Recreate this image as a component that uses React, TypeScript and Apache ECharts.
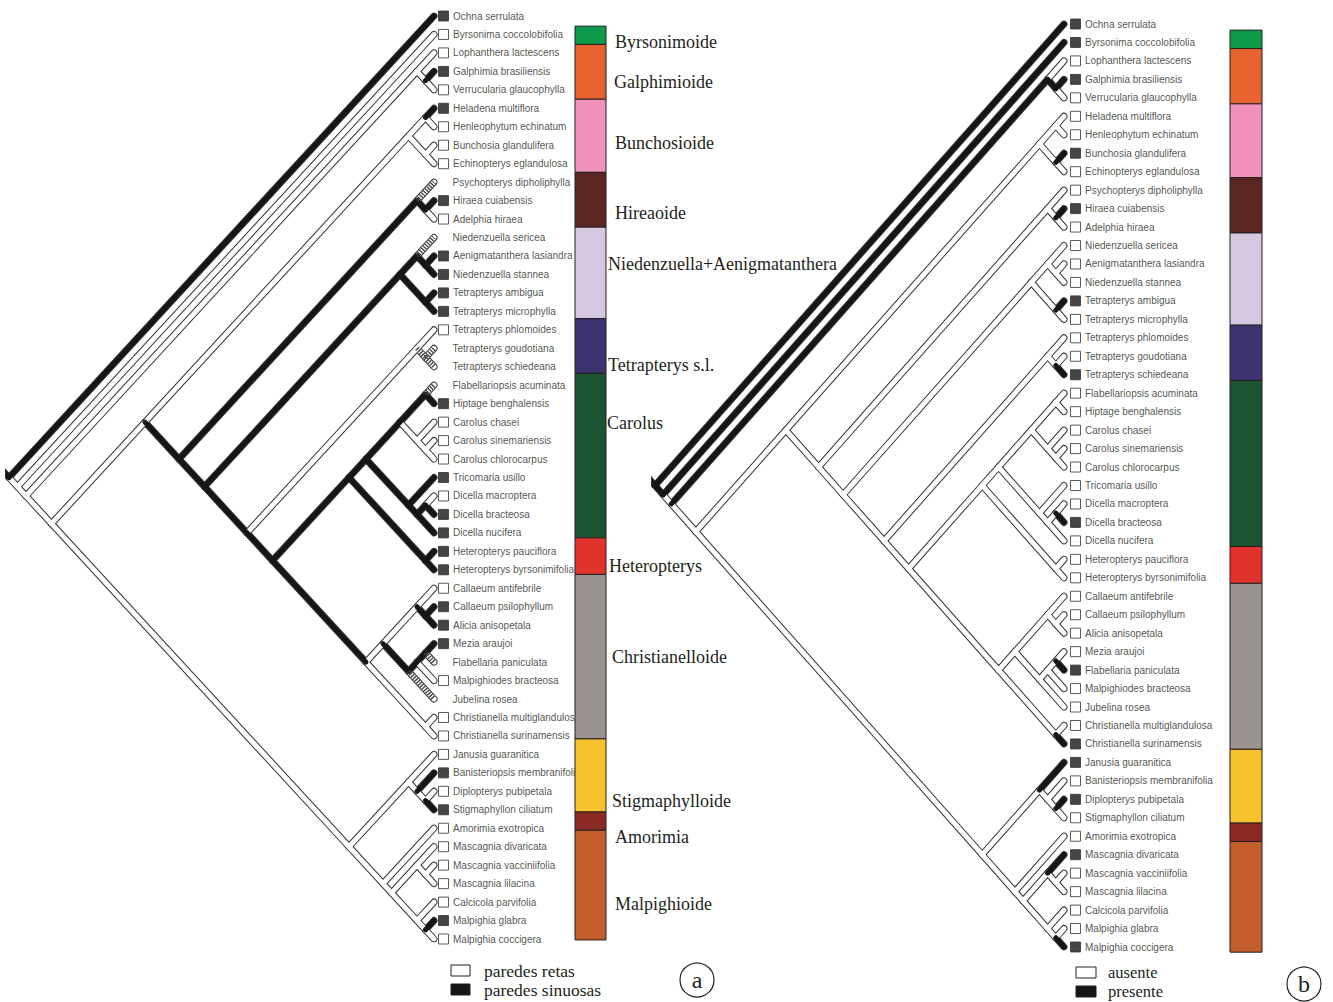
import React, { useEffect, useRef } from "react";
import * as echarts from "echarts";

// ---------------- DATA ----------------
const taxa = [
  "Ochna serrulata", "Byrsonima coccolobifolia", "Lophanthera lactescens", "Galphimia brasiliensis",
  "Verrucularia glaucophylla", "Heladena multiflora", "Henleophytum echinatum", "Bunchosia glandulifera",
  "Echinopterys eglandulosa", "Psychopterys dipholiphylla", "Hiraea cuiabensis", "Adelphia hiraea",
  "Niedenzuella sericea", "Aenigmatanthera lasiandra", "Niedenzuella stannea", "Tetrapterys ambigua",
  "Tetrapterys microphylla", "Tetrapterys phlomoides", "Tetrapterys goudotiana", "Tetrapterys schiedeana",
  "Flabellariopsis acuminata", "Hiptage benghalensis", "Carolus chasei", "Carolus sinemariensis",
  "Carolus chlorocarpus", "Tricomaria usillo", "Dicella macroptera", "Dicella bracteosa",
  "Dicella nucifera", "Heteropterys pauciflora", "Heteropterys byrsonimifolia", "Callaeum antifebrile",
  "Callaeum psilophyllum", "Alicia anisopetala", "Mezia araujoi", "Flabellaria paniculata",
  "Malpighiodes bracteosa", "Jubelina rosea", "Christianella multiglandulosa", "Christianella surinamensis",
  "Janusia guaranitica", "Banisteriopsis membranifolia", "Diplopterys pubipetala", "Stigmaphyllon ciliatum",
  "Amorimia exotropica", "Mascagnia divaricata", "Mascagnia vacciniifolia", "Mascagnia lilacina",
  "Calcicola parvifolia", "Malpighia glabra", "Malpighia coccigera",
];

// character states per taxon: b = black, w = white, h = no data (hatched branch)
const statesA = [
  "b", "w", "w", "b", "w", "b", "w", "w", "w", "h", "b", "w", "h", "b", "b", "b", "b",
  "w", "h", "h", "h", "b", "w", "w", "w", "b", "w", "b", "b", "b", "b", "w", "b", "b",
  "b", "h", "w", "h", "w", "w", "w", "b", "w", "b", "w", "w", "w", "w", "w", "b", "w",
];
const statesB = [
  "b", "b", "w", "b", "w", "w", "w", "b", "w", "w", "b", "w", "w", "w", "w", "b", "w",
  "w", "w", "b", "w", "w", "w", "w", "w", "w", "w", "b", "w", "w", "w", "w", "w", "w",
  "w", "b", "w", "w", "w", "b", "b", "w", "b", "w", "w", "b", "w", "w", "w", "w", "b",
];

// tree topology (leaf indices)
const bunchosioide = [[5, 6], [7, 8]];
const hireaoide = [9, [10, 11]];
const niedenzuella = [[12, [13, 14]], [15, 16]];
const tetrapterys = [17, [18, 19]];
const carolus = [[[20, 21], [22, [23, 24]]], [25, [[26, 27], 28]]];
const heteropterys = [29, 30];
const christianelloide = [[[31, [32, 33]], [[[34, 35], 36], 37]], [38, 39]];
const stigmaphylloide = [40, [41, [42, 43]]];
const malpighioide = [[45, [46, 47]], [48, [49, 50]]];
const galphimioide = [2, [3, 4]];
const upperClade = [bunchosioide, [hireaoide, [niedenzuella, [tetrapterys, [[carolus, heteropterys], christianelloide]]]]];
const lowerClade = [stigmaphylloide, [44, malpighioide]];
const tree = [0, [1, [galphimioide, [upperClade, lowerClade]]]];

// internal branch states (keyed by first-last leaf of the clade they lead to)
const blackBranchesA = [
  "9-39", "12-39", "17-39", "20-39", "31-39", "9-11", "10-11", "12-16", "12-14", "13-14", "15-16",
  "20-30", "20-28", "20-24", "20-21", "25-28", "26-28", "26-27", "29-30", "34-37", "34-36", "34-35", "32-33",
];
const hatchBranchesA = ["18-19"];
const blackBranchesB = ["1-50", "2-4", "3-4"];
const hatchBranchesB: string[] = [];

// clade bars
const cladeNames = [
  "Byrsonimoide", "Galphimioide", "Bunchosioide", "Hireaoide", "Niedenzuella+Aenigmatanthera",
  "Tetrapterys s.l.", "Carolus", "Heteropterys", "Christianelloide", "Stigmaphylloide", "Amorimia", "Malpighioide",
];
const cladeSizes = [1, 3, 4, 3, 5, 3, 9, 2, 9, 4, 1, 6];
const cladeColors = [
  "#0d9b4b", "#e8622d", "#f190bb", "#5b2522", "#d6c8e1", "#3c3371",
  "#1b5431", "#e1322c", "#9b938f", "#f8c22f", "#8b2a25", "#c45f2b",
];

const legendA = ["paredes retas", "paredes sinuosas"];
const legendB = ["ausente", "presente"];

// ---------------- LAYOUT ----------------
const ROW_H = 18.46;
const PANEL_A = { root: 9, tip: 434, top: 16, boxDx: 9.5, barDx: 141, barW: 31, barStart: 0.55, barScale: 0.99 };
const PANEL_B = { root: 655, tip: 1064, top: 24, boxDx: 11.5, barDx: 166, barW: 32, barStart: 0.33, barScale: 0.999 };
const labelRowsA = [1.41, 3.58, 6.88, 10.67, 13.43, 18.9, 22.05, 29.8, 34.7, 42.5, 44.5, 48.1];
const labelDxA = [9, 8, 9, 9, 2, 2, 1, 3, 6, 6, 9, 9];
const INK = "#231f20";
const SANS = "'Liberation Sans', Arial, sans-serif";
const SERIF = "'Liberation Serif', 'Times New Roman', serif";

type Pt = { lo: number; hi: number; d: number; r: number };

function walk(n: any, out: any[]): Pt {
  if (typeof n === "number") return { lo: n, hi: n, d: 0, r: n };
  const kids: Pt[] = n.map((c: any) => walk(c, out));
  const lo = kids[0].lo;
  const hi = kids[kids.length - 1].hi;
  const me = { lo, hi, d: hi - lo, r: (lo + hi) / 2 };
  kids.forEach((k) => {
    out.push({ from: [me.d, me.r], to: [k.d, k.r], leaf: k.lo === k.hi ? k.lo : -1, key: k.lo + "-" + k.hi });
  });
  return me;
}

function buildPanel(idx: number, states: string[], black: string[], hatch: string[], panel: any, withLabels: boolean) {
  const edges: any[] = [];
  const root = walk(tree, edges);
  edges.push({ from: [root.d + 0.7, root.r - 0.35], to: [root.d, root.r], leaf: -1, key: "stem", stem: true });
  const stateOf = (e: any) => {
    if (e.stem) return "b";
    if (e.leaf >= 0) return states[e.leaf];
    if (black.includes(e.key)) return "b";
    if (hatch.includes(e.key)) return "h";
    return "w";
  };
  const seg = (e: any) => [e.from, e.to];
  const outline = edges.map((e) => ({ coords: seg(e) }));
  const fills = edges
    .map((e) => ({ e, s: stateOf(e) }))
    .sort((a, b) => (a.s === "b" ? 1 : 0) - (b.s === "b" ? 1 : 0))
    .map(({ e, s }) => ({ coords: seg(e), lineStyle: { color: s === "b" ? "#161616" : "#ffffff" } }));
  const hatches = edges.filter((e) => stateOf(e) === "h").map((e) => ({ coords: seg(e) }));

  const pxPerUnit = (panel.tip - panel.root) / 50;
  const boxDepth = -panel.boxDx / pxPerUnit;

  const taxaData = taxa.map((t, i) => {
    const s = states[i];
    return {
      name: t,
      value: [boxDepth, i],
      itemStyle:
        s === "h"
          ? { color: "rgba(0,0,0,0)", borderWidth: 0 }
          : { color: s === "b" ? "#161616" : "#ffffff", borderColor: "#333", borderWidth: 1 },
    };
  });

  let cum = 0;
  const barData = cladeSizes.map((n) => {
    const s = panel.barStart + cum * panel.barScale;
    cum += n;
    const e = panel.barStart + cum * panel.barScale;
    return [s, e];
  });

  const axis = { xAxisIndex: idx, yAxisIndex: idx };
  return [
    {
      type: "lines", coordinateSystem: "cartesian2d", ...axis, z: 1, silent: true,
      lineStyle: { color: "#333", width: 7, opacity: 1, cap: "round", join: "round" },
      data: outline,
    },
    {
      type: "lines", coordinateSystem: "cartesian2d", ...axis, z: 2, silent: true,
      lineStyle: { color: "#fff", width: 5, opacity: 1, cap: "round", join: "round" },
      data: fills,
    },
    {
      type: "lines", coordinateSystem: "cartesian2d", ...axis, z: 3, silent: true,
      lineStyle: { color: "#3a3a3a", width: 5, opacity: 1, type: [1.3, 1.4], cap: "butt" },
      data: hatches,
    },
    {
      type: "scatter", ...axis, z: 4, clip: false, silent: true,
      symbol: "rect", symbolSize: [10, 10],
      label: {
        show: true, position: "right", distance: 4, formatter: "{b}",
        fontSize: 10, fontFamily: SANS, color: INK,
      },
      data: taxaData,
    },
    {
      type: "custom", ...axis, z: 6, clip: false, silent: true,
      renderItem: (params: any, api: any) => {
        const i = params.dataIndex;
        const p0 = api.coord([0, api.value(0)]);
        const p1 = api.coord([0, api.value(1)]);
        const x = p0[0] + panel.barDx;
        const children: any[] = [
          {
            type: "rect",
            shape: { x, y: p0[1], width: panel.barW, height: p1[1] - p0[1] },
            style: { fill: cladeColors[i], stroke: INK, lineWidth: 1 },
          },
        ];
        if (withLabels) {
          const pl = api.coord([0, labelRowsA[i]]);
          children.push({
            type: "text",
            x: x + panel.barW + labelDxA[i],
            y: pl[1],
            style: { text: cladeNames[i], fontSize: 18, fontFamily: SERIF, fill: INK, verticalAlign: "middle", align: "left" },
          });
        }
        return { type: "group", children };
      },
      data: barData,
    },
  ];
}

function legendGraphics(items: string[], box: any, circle: any, letter: string) {
  const g: any[] = [];
  items.forEach((t, i) => {
    g.push({
      type: "rect",
      shape: { x: box.x, y: box.y + i * box.dy, width: box.w, height: box.h },
      style: { fill: i === 0 ? "#fff" : "#161616", stroke: INK, lineWidth: 1 },
    });
    g.push({
      type: "text",
      x: box.tx,
      y: box.y + i * box.dy + box.h / 2,
      style: { text: t, fontSize: box.fs, fontFamily: SERIF, fill: INK, verticalAlign: "middle" },
    });
  });
  g.push({ type: "circle", shape: { cx: circle.cx, cy: circle.cy, r: 17 }, style: { fill: "none", stroke: INK, lineWidth: 1.2 } });
  g.push({
    type: "text", x: circle.cx, y: circle.cy,
    style: { text: letter, fontSize: 24, fontFamily: SERIF, fill: INK, align: "center", verticalAlign: "middle" },
  });
  return g;
}

export default function App() {
  const ref = useRef<HTMLDivElement>(null);
  useEffect(() => {
    if (!ref.current) return;
    const chart = echarts.init(ref.current, undefined, { renderer: "svg" });
    const mkGrid = (p: any) => ({ left: p.root, top: p.top, width: p.tip - p.root, height: ROW_H * 50 });
    const mkX = (i: number) => ({ type: "value", gridIndex: i, min: 0, max: 50, inverse: true, show: false });
    const mkY = (i: number) => ({ type: "value", gridIndex: i, min: 0, max: 50, inverse: true, show: false });
    const option: any = {
      animation: false,
      backgroundColor: "#ffffff",
      grid: [mkGrid(PANEL_A), mkGrid(PANEL_B)],
      xAxis: [mkX(0), mkX(1)],
      yAxis: [mkY(0), mkY(1)],
      series: [
        ...buildPanel(0, statesA, blackBranchesA, hatchBranchesA, PANEL_A, true),
        ...buildPanel(1, statesB, blackBranchesB, hatchBranchesB, PANEL_B, false),
      ],
      graphic: [
        ...legendGraphics(legendA, { x: 451, y: 965, w: 19, h: 11, dy: 19, tx: 484, fs: 17.5 }, { cx: 697, cy: 980 }, "a"),
        ...legendGraphics(legendB, { x: 1076, y: 967, w: 20, h: 11, dy: 19, tx: 1108, fs: 16.5 }, { cx: 1304, cy: 984 }, "b"),
      ],
    };
    chart.setOption(option);
    return () => chart.dispose();
  }, []);
  return (
    <div
      ref={ref}
      style={{ position: "fixed", left: 0, top: 0, width: 1333, height: 1002, background: "#fff" }}
    />
  );
}
